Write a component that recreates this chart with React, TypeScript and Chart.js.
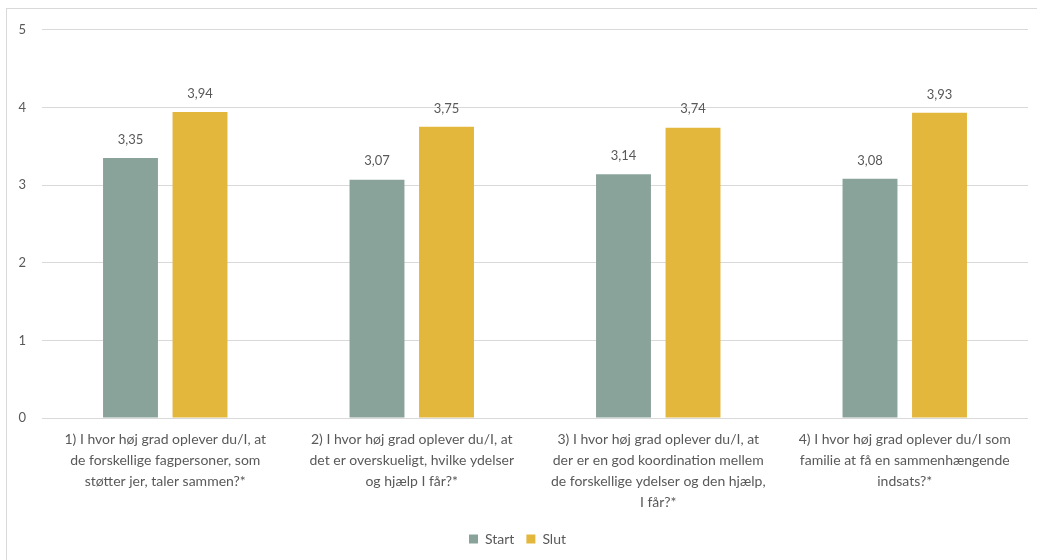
import React, { useEffect, useRef } from "react";
import { Chart, registerables } from "chart.js";

Chart.register(...registerables);

const categories: string[][] = [
  ["1) I hvor høj grad oplever du/I, at", "de forskellige fagpersoner, som", "støtter jer, taler sammen?*"],
  ["2) I hvor høj grad oplever du/I, at", "det er overskueligt, hvilke ydelser", "og hjælp I får?*"],
  ["3) I hvor høj grad oplever du/I, at", "der er en god koordination mellem", "de forskellige ydelser og den hjælp,", "I får?*"],
  ["4) I hvor høj grad oplever du/I som", "familie at få en sammenhængende", "indsats?*"],
];
const startValues = [3.35, 3.07, 3.14, 3.08];
const slutValues = [3.94, 3.75, 3.74, 3.93];
const seriesNames = ["Start", "Slut"];
const yTicks = [0, 1, 2, 3, 4, 5];

const TEXT = "#595959";
const FONT = "Lato, 'Open Sans', sans-serif";

const valueLabels = {
  id: "valueLabels",
  afterDatasetsDraw(chart: any) {
    const ctx = chart.ctx;
    ctx.save();
    ctx.fillStyle = TEXT;
    ctx.font = `13px ${FONT}`;
    ctx.textAlign = "center";
    ctx.textBaseline = "bottom";
    chart.data.datasets.forEach((ds: any, i: number) => {
      const meta = chart.getDatasetMeta(i);
      meta.data.forEach((bar: any, j: number) => {
        const v = ds.data[j] as number;
        ctx.fillText(v.toFixed(2).replace(".", ","), bar.x, bar.y - 12);
      });
    });
    ctx.restore();
  },
};

export default function App() {
  const ref = useRef<HTMLCanvasElement>(null);
  useEffect(() => {
    if (!ref.current) return;
    const chart = new Chart(ref.current, {
      type: "bar",
      data: {
        labels: categories,
        datasets: [
          { label: seriesNames[0], data: startValues, backgroundColor: "#8aa39a" },
          { label: seriesNames[1], data: slutValues, backgroundColor: "#e3b63c" },
        ],
      },
      options: {
        animation: false,
        responsive: false,
        maintainAspectRatio: false,
        layout: { padding: { top: 7, right: 9, left: 0, bottom: 4 } },
        datasets: { bar: { categoryPercentage: 0.564, barPercentage: 0.79 } },
        scales: {
          x: {
            grid: { display: false, drawTicks: false },
            border: { display: false },
            ticks: {
              color: TEXT,
              font: { family: FONT, size: 14, lineHeight: 1.5 },
              padding: 11,
              maxRotation: 0,
              autoSkip: false,
            },
            afterFit: (s: any) => {
              s.height = 102;
            },
          },
          y: {
            min: 0,
            max: 5,
            afterBuildTicks: (s: any) => {
              s.ticks = yTicks.map((v) => ({ value: v }));
            },
            grid: { color: "#d9d9d9", drawTicks: false, lineWidth: 1 },
            border: { display: false },
            ticks: { color: TEXT, font: { family: FONT, size: 13 }, padding: 16 },
            afterFit: (s: any) => {
              s.width = 35;
            },
          },
        },
        plugins: {
          legend: {
            position: "bottom",
            labels: {
              color: TEXT,
              font: { family: FONT, size: 14 },
              boxWidth: 9,
              boxHeight: 9,
              padding: 12,
            },
          },
          tooltip: { enabled: false },
        },
      },
      plugins: [valueLabels],
    });
    return () => chart.destroy();
  }, []);
  return (
    <div
      style={{
        position: "absolute",
        left: 6,
        top: 8,
        width: 1040,
        height: 560,
        border: "1px solid #d9d9d9",
        background: "#fff",
      }}
    >
      <canvas
        ref={ref}
        width={1030}
        height={554}
        style={{ display: "block", position: "absolute", left: 0, top: -3 }}
      />
    </div>
  );
}
